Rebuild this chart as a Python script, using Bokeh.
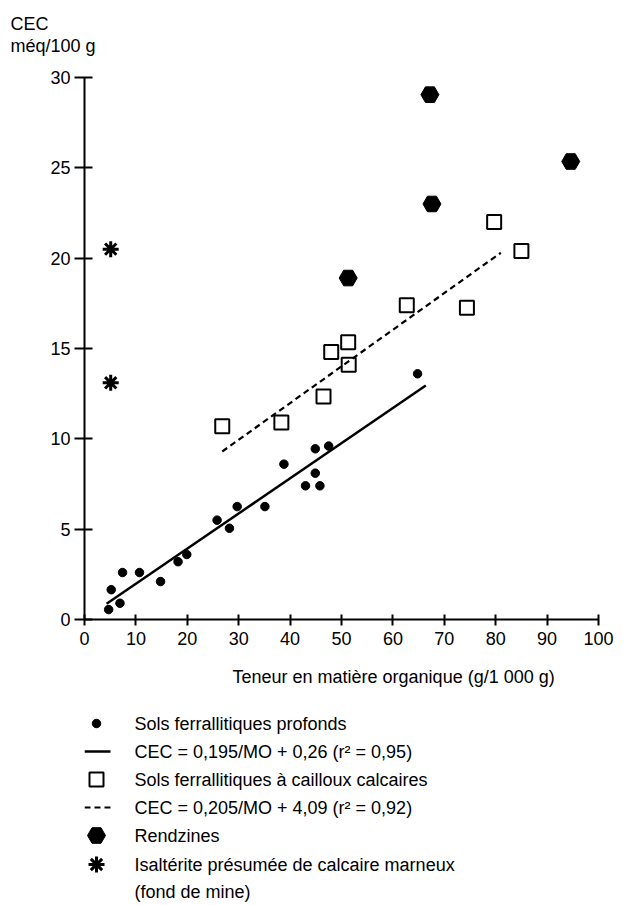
from bokeh.plotting import figure
from bokeh.layouts import column
from bokeh.models import Range1d, Title, FixedTicker
from bokeh.core.properties import value
from bokeh.embed import file_html
from bokeh.resources import INLINE

# --- data ---
# Sols ferrallitiques profonds (small dots)
sfp_mo = [4.7, 5.2, 6.9, 7.4, 10.7, 14.8, 18.2, 19.9, 25.8, 28.2, 29.7, 35.1,
          38.8, 43.0, 44.9, 44.9, 45.8, 47.5, 64.8]
sfp_cec = [0.55, 1.65, 0.9, 2.6, 2.6, 2.1, 3.2, 3.6, 5.5, 5.05, 6.25, 6.25,
           8.6, 7.4, 8.1, 9.45, 7.4, 9.6, 13.6]
# regression line endpoints (solid)
reg1_mo = [4.3, 66.4]
reg1_cec = [0.87, 12.95]

# Sols ferrallitiques a cailloux calcaires (open squares)
sfc_mo = [26.8, 38.3, 46.5, 48.0, 51.3, 51.4, 62.7, 74.4, 79.7, 85.0]
sfc_cec = [10.7, 10.9, 12.35, 14.8, 15.35, 14.1, 17.4, 17.25, 22.0, 20.4]
# regression line endpoints (dashed)
reg2_mo = [26.8, 81.0]
reg2_cec = [9.3, 20.3]

# Rendzines (large dots)
rdz_mo = [67.2, 94.6, 67.6, 51.3]
rdz_cec = [29.05, 25.35, 23.0, 18.9]

# Isalterite (asterisks)
isa_mo = [5.1, 5.1]
isa_cec = [20.5, 13.1]

x_ticks = [0, 10, 20, 30, 40, 50, 60, 70, 80, 90, 100]
y_ticks = [0, 5, 10, 15, 20, 25, 30]

legend_labels = [
    "Sols ferrallitiques profonds",
    "CEC = 0,195/MO + 0,26 (r² = 0,95)",
    "Sols ferrallitiques à cailloux calcaires",
    "CEC = 0,205/MO + 4,09 (r² = 0,92)",
    "Rendzines",
    "Isaltérite présumée de calcaire marneux",
    "(fond de mine)",
]

FONT = "Liberation Sans"
FS = "18px"
W = 627
H_MAIN = 710
H_LEG = 193
F_LEFT, F_RIGHT, F_TOP, F_BOTTOM = 84, 598, 77, 619

p = figure(width=W, height=H_MAIN, output_backend="svg", toolbar_location=None,
           x_range=Range1d(0, 100), y_range=Range1d(0, 30),
           min_border_left=F_LEFT, min_border_right=W - F_RIGHT,
           min_border_top=F_TOP, min_border_bottom=H_MAIN - F_BOTTOM)
p.outline_line_color = None
p.xgrid.grid_line_color = None
p.ygrid.grid_line_color = None

for ax, ticks in ((p.xaxis[0], x_ticks), (p.yaxis[0], y_ticks)):
    ax.ticker = FixedTicker(ticks=ticks)
    ax.minor_tick_line_color = None
    ax.axis_line_width = 2
    ax.major_tick_line_width = 2
    ax.axis_line_color = "black"
    ax.major_tick_line_color = "black"
    ax.major_label_text_font = FONT
    ax.major_label_text_font_size = FS
    ax.major_label_text_color = "black"

p.xaxis.major_tick_in = 5
p.xaxis.major_tick_out = 6
p.xaxis.major_label_standoff = 6
p.yaxis.major_tick_in = 8
p.yaxis.major_tick_out = 10
p.yaxis.major_label_standoff = 4

p.scatter(sfp_mo, sfp_cec, marker="circle", size=8.5, color="black")
p.line(reg1_mo, reg1_cec, line_width=2.5, color="black")
p.scatter(sfc_mo, sfc_cec, marker="square", size=14, fill_color="white",
          line_color="black", line_width=2)
p.line(reg2_mo, reg2_cec, line_width=2.2, color="black", line_dash="6 4")
p.scatter(rdz_mo, rdz_cec, marker="hex", size=18, color="black")
p.scatter(isa_mo, isa_cec, marker="asterisk", size=16, line_color="black",
          line_width=3)

# x-axis label (offset to the right as in the reference)
p.add_layout(Title(text="Teneur en matière organique (g/1 000 g)", align="left",
                   offset=148, text_font=FONT, text_font_size=FS,
                   text_font_style="normal", text_color="black", standoff=34),
             "below")

# y-axis label at top left (two lines); a blank title keeps a gap above the frame
p.add_layout(Title(text=" ", align="left", text_font=FONT, text_font_size=FS,
                   text_font_style="normal", standoff=0), "above")
p.add_layout(Title(text="méq/100 g", align="left", offset=-74, text_font=FONT,
                   text_font_size=FS, text_font_style="normal",
                   text_color="black", standoff=0), "above")
p.add_layout(Title(text="CEC", align="left", offset=-74, text_font=FONT,
                   text_font_size=FS, text_font_style="normal",
                   text_color="black", standoff=0), "above")

# ---- legend panel (its own figure; x in page pixels) ----
q = figure(width=W, height=H_LEG, output_backend="svg", toolbar_location=None,
           x_range=Range1d(F_LEFT, F_RIGHT), y_range=Range1d(H_LEG, 0),
           min_border_left=F_LEFT, min_border_right=W - F_RIGHT,
           min_border_top=0, min_border_bottom=0)
q.outline_line_color = None
q.axis.visible = False
q.grid.visible = False

row_y = [13, 41, 69, 97, 125, 154, 181]
gx = 96
q.scatter([gx], [row_y[0]], marker="circle", size=8.5, color="black")
q.line([F_LEFT, gx + 14], [row_y[1], row_y[1]], line_width=2.5, color="black")
q.scatter([gx], [row_y[2]], marker="square", size=14, fill_color="white",
          line_color="black", line_width=2)
q.line([F_LEFT, gx + 14], [row_y[3], row_y[3]], line_width=2.2, color="black",
       line_dash="6 4")
q.scatter([gx], [row_y[4]], marker="hex", size=18, color="black")
q.scatter([gx], [row_y[5]], marker="asterisk", size=16, line_color="black",
          line_width=3)
q.text(x=[134] * len(legend_labels), y=row_y, text=legend_labels,
       text_font=value(FONT), text_font_size=FS, text_baseline="middle",
       text_align="left", text_color="black")

open("out.html", "w").write(file_html(column(p, q), INLINE))
